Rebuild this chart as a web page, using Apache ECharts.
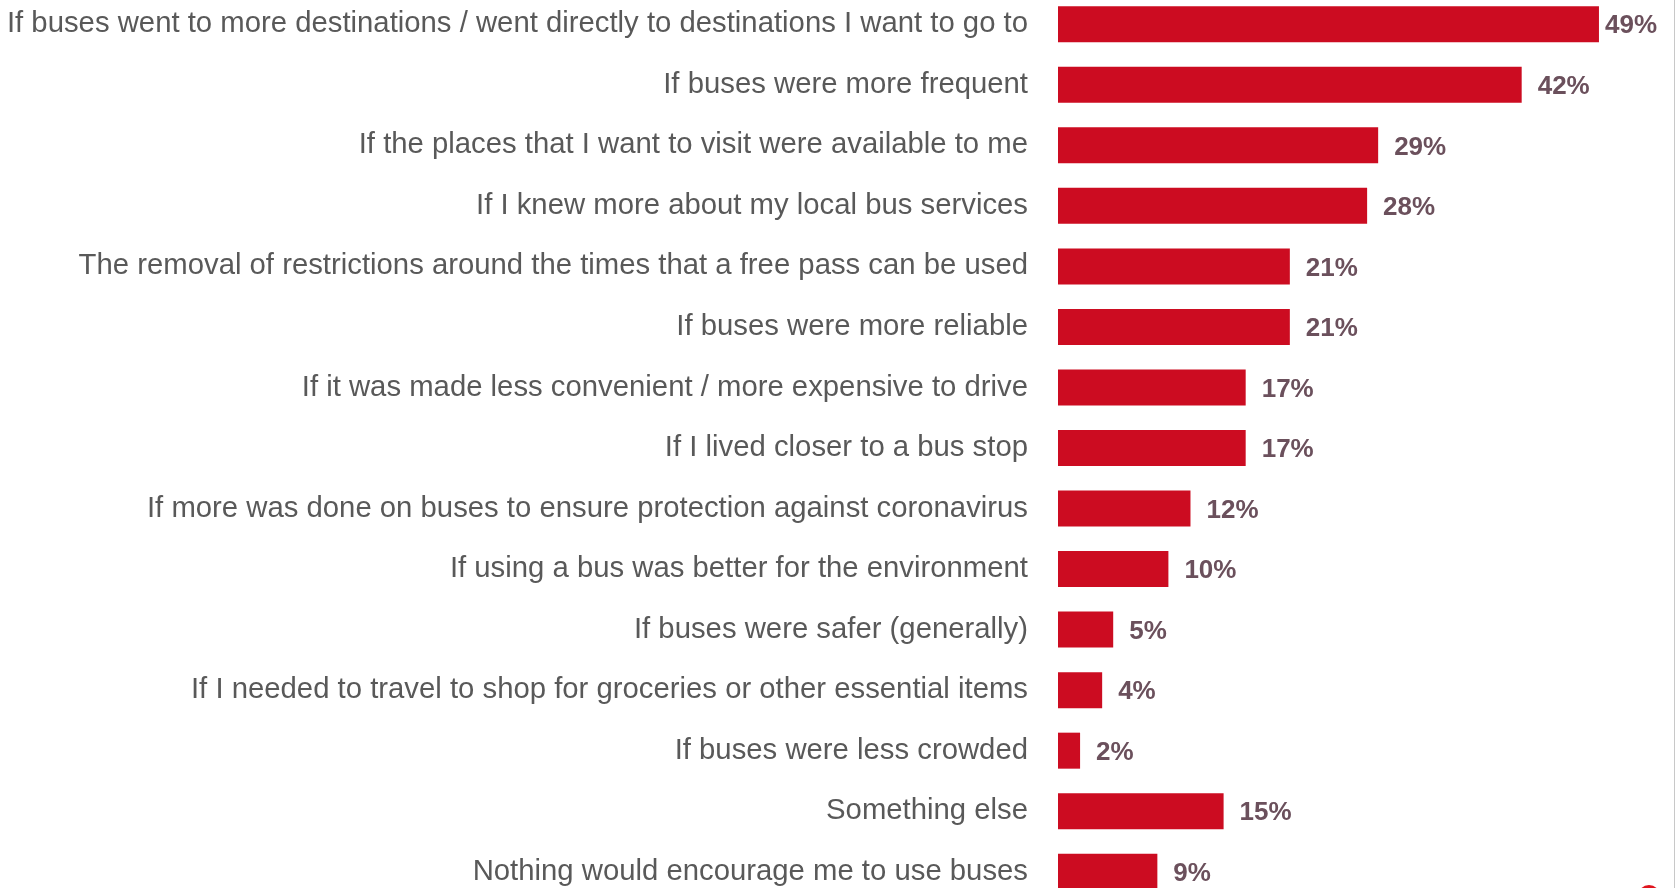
<!DOCTYPE html>
<html>
<head>
<meta charset="utf-8">
<script src="https://cdn.jsdelivr.net/npm/echarts@6/dist/echarts.min.js"></script>
<style>
  html, body { margin: 0; padding: 0; background: #fff; overflow: hidden; }
  #chart { width: 1674px; height: 888px; border-right: 1px solid #c8c8c8; }
</style>
</head>
<body>
<div id="chart"></div>
<script>
const categories = [
  'If buses went to more destinations / went directly to destinations I want to go to',
  'If buses were more frequent',
  'If the places that I want to visit were available to me',
  'If I knew more about my local bus services',
  'The removal of restrictions around the times that a free pass can be used',
  'If buses were more reliable',
  'If it was made less convenient / more expensive to drive',
  'If I lived closer to a bus stop',
  'If more was done on buses to ensure protection against coronavirus',
  'If using a bus was better for the environment',
  'If buses were safer (generally)',
  'If I needed to travel to shop for groceries or other essential items',
  'If buses were less crowded',
  'Something else',
  'Nothing would encourage me to use buses'
]
const values = [49, 42, 29, 28, 21, 21, 17, 17, 12, 10, 5, 4, 2, 15, 9]

const FONT = '"Liberation Sans", Arial, sans-serif'
const BAR_RED = '#cc0c21'

const chart = echarts.init(document.getElementById('chart'))

chart.setOption({
  backgroundColor: '#fff',
  animation: false,
  grid: {
    left: 1058,
    top: -6,
    width: 552,
    height: 908,
    containLabel: false,
    outerBoundsMode: 'none'
  },
  xAxis: {
    type: 'value',
    min: 0,
    max: 50,
    show: false
  },
  yAxis: {
    type: 'category',
    data: categories,
    inverse: true,
    axisLine: { show: false },
    axisTick: { show: false },
    splitLine: { show: false },
    axisLabel: {
      margin: 30,
      fontSize: 29.3,
      fontFamily: FONT,
      color: '#595959'
    }
  },
  series: [
    {
      type: 'bar',
      barWidth: 36,
      // the top label sits closer to its bar in the original
      data: values.map((v, i) => (i === 0 ? { value: v, label: { distance: 6 } } : v)),
      itemStyle: { color: BAR_RED },
      label: {
        show: true,
        position: 'right',
        distance: 16,
        offset: [0, 2],
        formatter: '{c}%',
        fontSize: 26,
        fontWeight: 'bold',
        fontFamily: FONT,
        color: '#6b505c'
      }
    }
  ],
  graphic: [
    {
      type: 'circle',
      shape: { cx: 1649, cy: 896, r: 11 },
      style: { fill: '#e0141e' }
    }
  ]
})
</script>
</body>
</html>
